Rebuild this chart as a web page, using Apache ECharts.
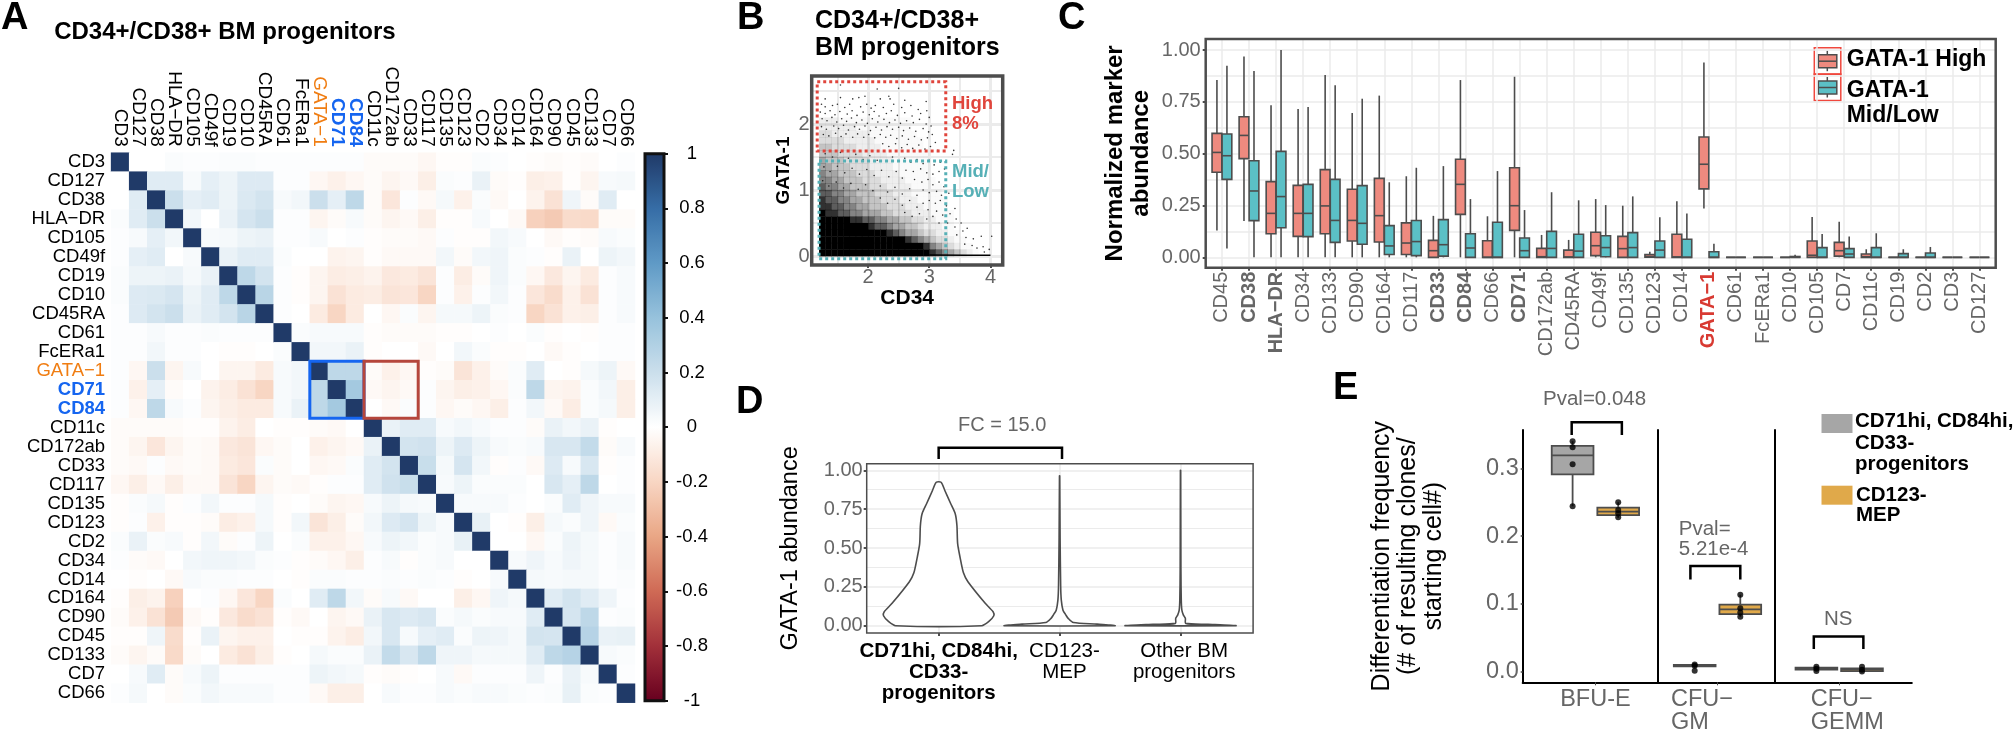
<!DOCTYPE html>
<html><head><meta charset="utf-8">
<style>html,body{margin:0;padding:0;background:#fff}#c{width:2014px;height:731px}</style>
<script src="https://cdn.jsdelivr.net/npm/echarts@6/dist/echarts.min.js"></script>
</head><body><div id="c"></div>
<script>
const ARIAL = '"Liberation Sans", Arial, sans-serif';

/* ---------- Panel A ---------- */
const markersA = ['CD3','CD127','CD38','HLA-DR','CD105','CD49f','CD19','CD10','CD45RA','CD61','FcERa1','GATA-1','CD71','CD84','CD11c','CD172ab','CD33','CD117','CD135','CD123','CD2','CD34','CD14','CD164','CD90','CD45','CD133','CD7','CD66'];
/* upper triangle, each row starts at the diagonal */
const corrCD3 = [1,0,0,.02,.01,.01,.02,.02,.01,.01,.01,.01,.01,.01,-.02,-.02,-.02,-.04,-.01,-.01,.02,.01,0,-.01,-.02,-.01,-.02,0,.01];
const corrCD127 = [1,.12,.12,.03,.1,.07,.13,.13,.01,.01,-.04,-.07,-.04,-.02,-.05,-.03,-.08,.02,.01,.08,-.02,-.01,-.08,-.07,-.01,-.05,.03,.04];
const corrCD38 = [1,.2,.1,.12,.07,.14,.17,.03,.05,.2,.1,.25,-.02,-.12,.01,-.03,.04,-.07,.02,-.03,0,-.06,-.14,.06,-.02,.12,0];
const corrHLADR = [1,.05,0,.08,.16,.2,.01,.01,-.05,-.02,.03,-.02,-.05,-.03,-.08,-.01,-.01,.03,0,-.03,-.22,-.25,-.17,-.18,-.02,-.02];
const corrCD105 = [1,.03,.04,.07,.08,.01,.01,.03,0,.01,-.01,-.02,-.02,-.03,.01,-.01,-.01,.05,.03,0,-.03,-.01,-.02,.03,.02];
const corrCD49f = [1,.08,.12,.12,.02,0,0,-.06,-.05,-.01,-.03,-.03,-.03,.05,-.02,.05,.06,.02,.01,-.01,.08,0,.07,.05];
const corrCD19 = [1,.25,.17,.01,-.01,-.05,-.09,-.08,-.06,-.11,-.1,-.13,.01,-.09,-.02,.06,.02,-.04,-.11,-.05,-.1,.01,.03];
const corrCD10 = [1,.27,.01,-.01,-.05,-.14,-.1,-.09,-.13,-.12,-.2,.01,-.07,.01,.05,.01,-.12,-.17,-.07,-.14,.01,.03];
const corrCD45RA = [1,.01,0,-.1,-.2,-.1,0,-.04,.02,-.05,.04,.04,.07,.02,.01,-.2,-.14,-.07,-.08,.01,.03];
const corrCD61 = [1,.02,.03,.03,.03,-.01,-.02,-.02,-.02,-.01,-.01,0,.01,0,.02,-.01,0,-.01,.01,.01];
const corrFcERa1 = [1,.05,.05,.08,-.01,0,0,-.03,0,.05,.02,-.01,-.01,0,-.03,-.01,0,.01,.01];
const corrGATA1 = [1,.25,.25,-.02,-.07,-.04,-.01,-.02,-.13,-.07,-.02,.02,.12,0,-.01,.04,.07,-.03];
const corrCD71 = [1,.35,-.03,-.05,-.03,.01,-.05,-.08,-.07,-.04,.02,.25,-.05,-.06,.02,.05,-.08];
const corrCD84 = [1,0,-.03,.02,.01,-.04,-.02,-.04,-.08,.01,.05,-.03,-.09,.02,.04,-.08];
const corrCD11c = [1,.08,.12,.12,.03,.05,.03,.01,.01,-.02,.08,.05,.08,-.01,0];
const corrCD172ab = [1,.17,.18,.07,.13,.07,.03,.02,.03,.15,.15,.23,-.02,.03];
const corrCD33 = [1,.21,.04,.16,.05,-.01,.01,-.03,.13,.03,.15,-.01,.01];
const corrCD117 = [1,.03,.07,.02,.02,.02,0,.15,.1,.25,0,.01];
const corrCD135 = [1,.03,.03,.03,.01,0,.02,.12,.06,.03,.03];
const corrCD123 = [1,.09,0,-.01,-.08,.04,.02,.06,-.03,.02];
const corrCD2 = [1,0,0,-.04,.02,.07,.04,.01,.03];
const corrCD34 = [1,.03,.06,.03,.06,.04,.01,.03];
const corrCD14 = [1,.04,.03,.04,.04,.01,.02];
const corrCD164 = [1,.12,.17,.12,.06,.01];
const corrCD90 = [1,.16,.25,.01,.02];
const corrCD45 = [1,.28,.08,.09];
const corrCD133 = [1,.03,.02];
const corrCD7 = [1,.01];
const corrCD66 = [1];
const corrRows = [corrCD3,corrCD127,corrCD38,corrHLADR,corrCD105,corrCD49f,corrCD19,corrCD10,corrCD45RA,corrCD61,corrFcERa1,corrGATA1,corrCD71,corrCD84,corrCD11c,corrCD172ab,corrCD33,corrCD117,corrCD135,corrCD123,corrCD2,corrCD34,corrCD14,corrCD164,corrCD90,corrCD45,corrCD133,corrCD7,corrCD66];
/* [first column, first row, last column, last row, colour] */
const highlightBoxes = [['GATA-1','GATA-1','CD84','CD84','#1565f0'],['CD11c','GATA-1','CD33','CD84','#b5463c']];

/* ---------- Panel B ---------- */
const gatesB = [[1.17,1.59,3.27,2.64,'#e0453c'],[1.2,-.04,3.27,1.44,'#56b0b6']];
const densityStartX = 1.2;
/* darkness 0-9 of each 0.1 x 0.1 cell, x from 1.2, one string per 0.1 of GATA-1 */
const densityRows = [
'99999999999999999987654321000',
'99999999999999999865432110000',
'99999999999999876543321100000',
'99999999999876554332211000000',
'99999999877655443222110000000',
'99999887766554433221110000000',
'98877665554433322211110000000',
'88776655444333222111100000000',
'87766554443332221111100000000',
'77665544433322211111000000000',
'76655444333222211111000000000',
'66554443332222111110000000000',
'65544433322221111100000000000',
'55444333222211111100000000000',
'54443333222211111100000000000',
'44433332222111111100000000000',
'44333322221111111000000000000',
'33332222211111111000000000000',
'33222222111111110000000000000',
'22222211111111100000000000000',
'22211111111111100000000000000'];
const baselineTailB = [[3.0,.015],[3.6,.012],[4.0,.01]];
const sparseDotsB = [[1.55,2.59],[2.15,2.53],[2.5,2.54],[1.3,2.38],[1.55,2.4],[1.75,2.38],[1.85,2.4],[1.95,2.42],[2.2,2.38],[2.34,2.42],[2.36,2.38],[2.6,2.36],[2.95,2.34],
[1.24,2.3],[1.3,2.26],[1.42,2.28],[1.5,2.3],[1.62,2.25],[1.7,2.3],[1.88,2.26],[1.98,2.3],[2.05,2.24],[2.12,2.28],[2.25,2.25],[2.42,2.3],[2.55,2.25],[2.7,2.28],[2.82,2.22],[2.96,2.2],
[1.22,2.18],[1.3,2.16],[1.38,2.2],[1.46,2.14],[1.54,2.19],[1.66,2.15],[1.74,2.2],[1.82,2.13],[1.92,2.18],[2.02,2.14],[2.1,2.19],[2.18,2.12],[2.3,2.16],[2.38,2.2],[2.48,2.13],[2.6,2.17],[2.72,2.12],[2.86,2.16],[3.0,2.1],
[1.25,2.08],[1.33,2.05],[1.41,2.1],[1.49,2.03],[1.57,2.08],[1.65,2.04],[1.73,2.09],[1.81,2.02],[1.9,2.06],[1.99,2.01],[2.07,2.08],[2.16,2.03],[2.26,2.07],[2.35,2.02],[2.44,2.06],[2.53,2.01],[2.63,2.05],[2.74,2.02],[2.84,2.07],[2.95,2.0],[3.03,1.97],
[1.24,1.96],[1.32,1.92],[1.44,1.97],[1.52,1.93],[1.6,1.98],[1.68,1.91],[1.78,1.96],[1.86,1.92],[1.95,1.97],[2.04,1.9],[2.13,1.95],[2.22,1.91],[2.31,1.96],[2.4,1.92],[2.5,1.95],[2.58,1.9],[2.68,1.94],[2.78,1.89],[2.9,1.93],[2.99,1.88],[3.05,1.84],
[1.27,1.84],[1.36,1.82],[1.47,1.86],[1.56,1.81],[1.64,1.85],[1.75,1.8],[1.83,1.85],[1.93,1.8],[2.01,1.84],[2.11,1.79],[2.2,1.84],[2.29,1.8],[2.37,1.83],[2.47,1.78],[2.56,1.82],[2.66,1.77],[2.76,1.81],[2.87,1.76],[2.97,1.79],[3.1,1.72],
[2.24,1.7],[2.34,1.66],[2.45,1.7],[2.55,1.64],[2.64,1.69],[2.73,1.63],[2.83,1.68],[2.93,1.62],[3.02,1.66],[3.14,1.6],[3.4,1.6],[3.38,1.54],
[2.4,1.5],[2.5,1.44],[2.6,1.48],[2.7,1.42],[2.8,1.46],[2.9,1.4],[3.0,1.45],[3.08,1.38],[3.18,1.42],[3.25,1.32],[2.62,1.3],[2.74,1.28],[2.86,1.32],[2.96,1.26],[3.06,1.24],[3.16,1.28],
[2.76,1.16],[2.88,1.12],[2.98,1.16],[3.06,1.08],[3.16,1.12],[3.24,1.05],[2.9,1.0],[3.0,.96],[3.12,.98],[3.2,.92],[3.32,.95],[3.0,.84],[3.1,.8],[3.18,.84],[3.28,.76],[3.42,.72],[3.12,.68],[3.22,.62],[3.34,.64],[3.44,.56],[3.52,.5],
[3.3,.5],[3.42,.44],[3.55,.38],[3.62,.42],[3.45,.32],[3.6,.28],[3.72,.26],[3.85,.3],[4.02,.3],[3.58,.18],[3.7,.16],[3.78,.12],[3.88,.14],[3.98,.1],[3.9,.06],
[1.3,1.55],[1.42,1.5],[1.55,1.57],[1.68,1.48],[1.8,1.54],[1.92,1.46],[2.03,1.52],[2.15,1.45],[1.28,1.35],[1.38,1.28],[1.5,1.36],[1.62,1.26],[1.74,1.33],[1.86,1.24],[1.98,1.31],[2.1,1.22],[2.22,1.3],[2.34,1.2],[2.46,1.28],[2.56,1.18],
[1.26,1.14],[1.36,1.06],[1.48,1.12],[1.6,1.03],[1.72,1.1],[1.84,1.01],[1.96,1.08],[2.08,.99],[2.2,1.06],[2.32,.97],[2.44,1.04],[2.56,.94],[2.68,1.02],[2.8,.92],[2.2,.88],[2.32,.8],[2.44,.86],[2.56,.77],[2.68,.84],[2.8,.74],[2.9,.8],[2.98,.7],[2.6,.66],[2.72,.6],[2.84,.64],[2.96,.56],[3.06,.6],[3.16,.5]];

/* ---------- Panel C ---------- */
const markersC = ['CD45','CD38','HLA-DR','CD34','CD133','CD90','CD164','CD117','CD33','CD84','CD66','CD71','CD172ab','CD45RA','CD49f','CD135','CD123','CD14','GATA-1','CD61','FcERa1','CD10','CD105','CD7','CD11c','CD19','CD2','CD3','CD127'];
const boldMarkersC = ['CD38','HLA-DR','CD33','CD84','CD71'];
/* low whisker, q1, median, q3, high whisker */
const gataHigh = [[.13,.41,.506,.598,.855],[.175,.476,.588,.678,.968],[0,.114,.212,.365,.733],[0,.101,.212,.347,.715],[0,.114,.248,.423,.879],[0,.079,.178,.328,.696],[0,.074,.201,.381,.78],[0,.014,.069,.166,.391],[0,0,.032,.082,.2],[0,.207,.352,.473,.855],[0,0,0,.08,.198],[0,.13,.249,.432,.871],[0,0,.003,.043,.108],[0,0,.002,.035,.084],[0,.008,.056,.121,.281],[0,0,.042,.101,.249],[0,.001,.003,.013,.027],[0,0,.002,.111,.27],[.235,.33,.449,.58,.94],[0,0,0,0,0],[0,0,0,0,0],[0,0,0,0,.002],[0,0,.01,.079,.195],[0,.006,.032,.072,.172],[0,0,.003,.016,.039],[0,0,0,0,0],[0,0,0,0,0],[0,0,0,0,0],[0,0,0,0,0]];
const gataMidLow = [[.043,.376,.49,.595,.924],[0,.177,.32,.466,.899],[0,.143,.293,.511,1],[0,.1,.212,.352,.725],[0,.072,.178,.376,.83],[0,.063,.164,.346,.765],[0,.014,.055,.153,.362],[0,.008,.076,.178,.432],[0,.006,.061,.182,.44],[0,0,.045,.114,.281],[0,0,0,.169,.416],[0,0,.032,.093,.228],[0,0,.043,.125,.314],[0,0,.03,.111,.275],[0,.003,.047,.104,.252],[0,0,.047,.119,.294],[0,0,.035,.079,.193],[0,0,0,.087,.212],[0,0,0,.027,.066],[0,0,0,0,0],[0,0,0,0,0],[0,0,0,.004,.012],[0,0,0,.047,.113],[0,0,.016,.042,.1],[0,0,0,.047,.116],[0,0,0,.018,.039],[0,0,0,.021,.05],[0,0,0,0,0],[0,0,0,0,0]];

/* ---------- Panel D ---------- */
const categoriesD = ['CD71hi, CD84hi,\nCD33-\nprogenitors','CD123-\nMEP','Other BM\nprogenitors'];
const violinLevels1 = [0,.026,.064,.09,.144,.283,.34,.44,.528,.645,.72,.785,.87,.923];
const violinWidths1 = [.356,.413,.456,.45,.385,.242,.205,.177,.157,.151,.137,.1,.051,.02];
const violinLevels2 = [0,.01,.02,.047,.07,.1,.165,.25,.57,.965];
const violinWidths2 = [.456,.31,.114,.071,.051,.028,.014,.009,.004,.001];
const violinLevels3 = [0,.009,.015,.047,.07,.1,.165,.36,1];
const violinWidths3 = [.456,.228,.043,.04,.023,.011,.006,.003,.001];

/* ---------- Panel E ---------- */
const facetsE = ['BFU-E','CFU−\nGM','CFU−\nGEMM'];
const seriesE = ['CD71hi, CD84hi,\nCD33-\nprogenitors','CD123-\nMEP'];
/* low whisker, q1, median, q3, high whisker */
const boxBFU = [[.244,.291,.319,.333,.34],[.227,.231,.236,.242,.25]];
const boxGM = [[.006,.008,.009,.01,.011],[.081,.085,.092,.099,.1136]];
const boxGEMM = [[.002,.003,.0044,.006,.007],[.001,.001,.003,.005,.007]];
const pointsBFU = [[1,.34],[1,.331],[1,.306],[1,.244],[2,.25],[2,.2386],[2,.2337],[2,.228]];
const pointsGM = [[1,.0108],[1,.0089],[1,.0015],[2,.1136],[2,.0935],[2,.0875],[2,.081]];
const pointsGEMM = [[1,.0074],[1,.0044],[1,.001],[2,.0074],[2,.003],[2,.0005]];
/* first x, last x, top, foot */
const bracketD = [1,2.02,1.145,1.073];
const bracketBFU = [.98,2.08,.368,.349];
const bracketGM = [.906,2,.156,.136];
const bracketGEMM = [.943,2.03,.052,.0335];

/* ---------- shared styling ---------- */
const GRAY = '#666666', FRAME = '#4d4d4d', GRID = '#ebebeb';

function bracketSeries(xAxisIndex, yAxisIndex, b) {
  return {type:'custom', xAxisIndex, yAxisIndex, clip:false, silent:true, z:8, data:[b],
    renderItem(p, api) {
      const a = api.coord([api.value(0), api.value(3)]), t1 = api.coord([api.value(0), api.value(2)]),
            t2 = api.coord([api.value(1), api.value(2)]), c = api.coord([api.value(1), api.value(3)]);
      return {type:'polyline', shape:{points:[a,t1,t2,c]}, style:{fill:'none', stroke:'#000', lineWidth:2.5}};
    }, encode:{x:[0,1], y:[2,3]}};
}
function boxSeries(xAxisIndex, yAxisIndex, rows, pos, width, fills, lw) {
  return {type:'custom', xAxisIndex, yAxisIndex, clip:false, z:3, silent:true,
    data: rows.map((r,i)=>[pos[i], ...r]),
    encode:{x:0, y:[1,5]},
    renderItem(p, api) {
      const x = api.value(0), v = [1,2,3,4,5].map(k=>api.value(k));
      const fill = fills[p.dataIndex % fills.length];
      const pt = (dx,y)=>api.coord([x+dx,y]);
      const w = width/2, stroke = {stroke:FRAME, lineWidth:lw};
      const tl = pt(-w,v[3]), br = pt(w,v[1]);
      return {type:'group', children:[
        {type:'line', shape:{x1:pt(0,0)[0], y1:pt(0,v[0])[1], x2:pt(0,0)[0], y2:pt(0,v[1])[1]}, style:stroke},
        {type:'line', shape:{x1:pt(0,0)[0], y1:pt(0,v[3])[1], x2:pt(0,0)[0], y2:pt(0,v[4])[1]}, style:stroke},
        {type:'rect', shape:{x:tl[0], y:tl[1], width:br[0]-tl[0], height:br[1]-tl[1]}, style:{fill, ...stroke}},
        {type:'line', shape:{x1:tl[0], y1:pt(0,v[2])[1], x2:br[0], y2:pt(0,v[2])[1]}, style:stroke}
      ]};
    }};
}
function violinSeries(xAxisIndex, yAxisIndex, center, levels, widths) {
  return {type:'custom', xAxisIndex, yAxisIndex, z:3, silent:true,
    data: levels.map((l,i)=>[center, l, widths[i]]),
    encode:{x:0, y:1},
    renderItem(p, api) {
      if (p.dataIndex !== 0) return null;
      const right = levels.map((l,i)=>api.coord([center+widths[i], l]));
      const left = levels.map((l,i)=>api.coord([center-widths[i], l])).reverse();
      return {type:'polygon', shape:{points:right.concat(left), smooth:.25}, style:{fill:'#fff', stroke:FRAME, lineWidth:1.6}};
    }};
}

/* ---------- grids ---------- */
const G = o => Object.assign({outerBoundsMode:'none', containLabel:false}, o);
const grids = [
  G({left:111.1, top:152.7, width:523.9, height:550}),                 // 0 heat
  G({left:645, top:153.7, width:19, height:547, show:true, borderColor:'#111', borderWidth:3, backgroundColor:'transparent', z:10}), // 1 colorbar
  G({left:811.7, top:76, width:191, height:189, show:true, borderColor:FRAME, borderWidth:3.5, z:6}),    // 2 B
  G({left:1205.7, top:39, width:790, height:228.7, show:true, borderColor:FRAME, borderWidth:2.5, z:6}), // 3 C
  G({left:866.7, top:463.7, width:386.4, height:169.3, show:true, borderColor:FRAME, borderWidth:1.5, z:6}), // 4 D
  G({left:1522.7, top:430, width:134.6, height:252.3}),  // 5 E1
  G({left:1657.3, top:430, width:117.7, height:252.3}),  // 6 E2
  G({left:1775, top:430, width:136.8, height:252.3})     // 7 E3
];

const labelRich = (s)=>({
  k:{fontFamily:ARIAL, fontSize:s, color:'#000'},
  o:{fontFamily:ARIAL, fontSize:s, color:'#f07d12'},
  b:{fontFamily:ARIAL, fontSize:s, color:'#1565f0', fontWeight:'bold'}
});
const heatLabel = v => v==='GATA-1' ? `{o|${v.replace('-','\u2212')}}` : (v==='CD71'||v==='CD84') ? `{b|${v}}` : `{k|${v.replace('HLA-DR','HLA\u2212DR')}}`;

function valueAxis(extra) {
  return Object.assign({type:'value', axisLine:{show:false, onZero:false}, axisTick:{show:false}, axisLabel:{show:false}, splitLine:{show:false}}, extra);
}
function customTicks(values, fmt, labelExtra, splitLine, tick, labelValues) {
  return {
    axisTick:{show:tick!==false, length:3, lineStyle:{color:FRAME, width:2}, customValues:values},
    axisLabel:Object.assign({show:true, customValues:labelValues||values, formatter:fmt, fontFamily:ARIAL, fontSize:20, color:GRAY, margin:4, showMinLabel:true, showMaxLabel:true}, labelExtra),
    splitLine: splitLine
  };
}
const majorLine = w => ({show:true, lineStyle:{color:GRID, width:w}});
const minorAxis = (gridIndex, min, max, values, w) => valueAxis({gridIndex, min, max,
  axisTick:{show:false, customValues:values}, splitLine:{show:true, lineStyle:{color:GRID, width:w}}});

function eX(gridIndex,min,max,tick,labelAt,facet) {
  return {type:'value', gridIndex, min, max, axisLine:{show:true, onZero:false, lineStyle:{color:'#000', width:2}},
    axisTick:{show:true, length:3, lineStyle:{color:FRAME, width:1}, customValues:[tick]}, splitLine:{show:false},
    axisLabel:{show:true, customValues:[labelAt], formatter:()=>facetsE[facet], fontFamily:ARIAL, fontSize:23.5, color:GRAY, margin:5, align:facet===0?'center':'left', lineHeight:23.5, showMinLabel:true, showMaxLabel:true}};
}
const xAxes = [
  {type:'category', gridIndex:0, data:markersA, position:'top', axisLine:{show:false}, axisTick:{show:false}, splitLine:{show:false},
   axisLabel:{rotate:90, interval:0, margin:6, formatter:heatLabel, rich:labelRich(19)}},
  valueAxis({gridIndex:1, min:0, max:1}),
  valueAxis(Object.assign({gridIndex:2, min:1.08, max:4.2, name:'CD34', nameLocation:'middle', nameGap:17,
    nameTextStyle:{fontFamily:ARIAL, fontSize:21, fontWeight:'bold', color:'#000'}},
    customTicks([2,3,4], v=>v, {margin:2}, majorLine(3)))),
  minorAxis(2,1.08,4.2,[1.5,2.5,3.5],2),
  valueAxis(Object.assign({gridIndex:3, min:-.6, max:28.6},
    customTicks(markersC.map((m,i)=>i), v=>{const m=markersC[v]; if(m===undefined) return ''; const t=m.replace('-','\u2212'); return m==='GATA-1'?`{r|${t}}`:boldMarkersC.includes(m)?`{b|${t}}`:`{n|${t}}`;},
      {rotate:90, margin:4, rich:{n:{fontFamily:ARIAL,fontSize:20,color:GRAY},b:{fontFamily:ARIAL,fontSize:20,color:GRAY,fontWeight:'bold'},r:{fontFamily:ARIAL,fontSize:20,color:'#d83a32',fontWeight:'bold'}}}, majorLine(1.5)))),
  valueAxis(Object.assign({gridIndex:4, min:.405, max:3.6},
    customTicks([1,2,3], v=>{const k=Math.round(v)-1, c=categoriesD[k]; return c===undefined?'':c.split('\n').map(s=>`{${k===0?'b':'n'}|${s}}`).join('\n');},
      {margin:8, color:'#000', rich:{b:{fontFamily:ARIAL,fontSize:20.5,fontWeight:'bold',color:'#000',lineHeight:21},n:{fontFamily:ARIAL,fontSize:20.5,color:'#000',lineHeight:21}}}, majorLine(1.5), true, [1,2.04,3.03]))),
  eX(5,-.094,2.857,1.5,1.5,0),
  eX(6,.18,2.761,1.5,.48,1),
  eX(7,.092,3.092,1.5,.877,2)
];
const yAxes = [
  {type:'category', gridIndex:0, data:markersA, inverse:true, axisLine:{show:false}, axisTick:{show:false}, splitLine:{show:false},
   axisLabel:{interval:0, margin:6, formatter:heatLabel, rich:labelRich(18.5)}},
  {type:'value', gridIndex:1, min:-1, max:1, interval:.2, position:'right', axisLine:{show:false, onZero:false}, splitLine:{show:false},
   axisTick:{show:true, length:4, lineStyle:{color:'#111', width:2}},
   axisLabel:{margin:28, align:'center', fontFamily:ARIAL, fontSize:18.5, color:'#000', formatter:v=>String(+v.toFixed(1))}, z:10},
  valueAxis(Object.assign({gridIndex:2, min:-.136, max:2.727, name:'GATA-1', nameLocation:'middle', nameGap:18, nameRotate:90,
    nameTextStyle:{fontFamily:ARIAL, fontSize:19, fontWeight:'bold', color:'#000'}},
    customTicks([0,1,2], v=>v, {margin:2}, majorLine(3), false))),
  minorAxis(2,-.136,2.727,[.5,1.5,2.5],2),
  valueAxis(Object.assign({gridIndex:3, min:-.05, max:1.053, name:'Normalized marker\nabundance', nameLocation:'middle', nameGap:51, nameRotate:90,
    nameTextStyle:{fontFamily:ARIAL, fontSize:24, fontWeight:'bold', color:'#000', lineHeight:26}},
    customTicks([0,.25,.5,.75,1], v=>v.toFixed(2), {margin:5}, majorLine(1.5)))),
  minorAxis(3,-.05,1.053,[.125,.375,.625,.875],1.5),
  valueAxis(Object.assign({gridIndex:4, min:-.047, max:1.0425, name:'GATA-1 abundance', nameLocation:'middle', nameGap:64, nameRotate:90,
    nameTextStyle:{fontFamily:ARIAL, fontSize:23.5, color:'#000'}},
    customTicks([0,.25,.5,.75,1], v=>v.toFixed(2), {margin:4}, majorLine(1.5)))),
  minorAxis(4,-.047,1.0425,[.125,.375,.625,.875],1),
  {type:'value', gridIndex:5, min:-.0156, max:.3565, splitLine:{show:false}, name:'Differentiation frequency\n(# of resulting clones/\nstarting cell#)', nameLocation:'middle', nameGap:76, nameRotate:90,
   nameTextStyle:{fontFamily:ARIAL, fontSize:25, color:'#000', lineHeight:26},
   axisLine:{show:true, onZero:false, lineStyle:{color:'#000', width:2}},
   axisTick:{show:true, length:2, lineStyle:{color:FRAME, width:1.5}, customValues:[0,.1,.2,.3]},
   axisLabel:{customValues:[0,.1,.2,.3], formatter:v=>v.toFixed(1), fontFamily:ARIAL, fontSize:23.5, color:GRAY, margin:4}},
  {type:'value', gridIndex:6, min:-.0156, max:.3565, splitLine:{show:false}, axisTick:{show:false}, axisLabel:{show:false}, axisLine:{show:true, onZero:false, lineStyle:{color:'#000', width:2}}},
  {type:'value', gridIndex:7, min:-.0156, max:.3565, splitLine:{show:false}, axisTick:{show:false}, axisLabel:{show:false}, axisLine:{show:true, onZero:false, lineStyle:{color:'#000', width:2}}}
];

/* ---------- series ---------- */
const heatData = [];
corrRows.forEach((row,i)=>row.forEach((v,k)=>{ heatData.push([i+k,i,v]); if(k) heatData.push([i,i+k,v]); }));
const densityCells = [];
densityRows.forEach((s,r)=>[...s].forEach((d,c)=>{ if(+d) densityCells.push([densityStartX+c*.1, r*.1, +d]); }));

const series = [
  {type:'heatmap', xAxisIndex:0, yAxisIndex:0, data:heatData, silent:true, progressive:0},
  {type:'custom', xAxisIndex:0, yAxisIndex:0, z:5, silent:true, clip:false, data:highlightBoxes,
   encode:{x:0,y:1},
   renderItem(p,api){
     const h = highlightBoxes[p.dataIndex];
     const a = api.coord([h[0],h[1]]), b = api.coord([h[2],h[3]]), s = api.size([1,1]);
     return {type:'rect', shape:{x:a[0]-s[0]/2, y:a[1]-s[1]/2, width:b[0]-a[0]+s[0], height:b[1]-a[1]+s[1]}, style:{fill:'none', stroke:h[4], lineWidth:3}};
   }},
  {type:'custom', xAxisIndex:2, yAxisIndex:2, z:2, silent:true, data:densityCells, encode:{x:0,y:1},
   renderItem(p,api){
     const a = api.coord([api.value(0),api.value(1)+.1]), b = api.coord([api.value(0)+.1,api.value(1)]);
     return {type:'rect', shape:{x:a[0],y:a[1],width:b[0]-a[0]+.4,height:b[1]-a[1]+.4}, style:{fill:'#000', opacity:Math.pow(api.value(2)/9,1.8)}};
   }},
  {type:'scatter', xAxisIndex:2, yAxisIndex:2, z:3, silent:true, symbolSize:1.6, data:sparseDotsB, itemStyle:{color:'#000'}},
  {type:'line', xAxisIndex:2, yAxisIndex:2, z:3, silent:true, symbol:'none', data:baselineTailB, lineStyle:{color:'#000', width:1.5}},
  {type:'custom', xAxisIndex:2, yAxisIndex:2, z:4, silent:true, clip:false, data:gatesB, encode:{x:[0,2],y:[1,3]},
   renderItem(p,api){
     const g = gatesB[p.dataIndex], a=api.coord([g[0],g[3]]), b=api.coord([g[2],g[1]]);
     return {type:'rect', shape:{x:a[0],y:a[1],width:b[0]-a[0],height:b[1]-a[1]}, style:{fill:'none',stroke:g[4],lineWidth:3,lineDash:[3,3]}};
   }},
  boxSeries(4,4,gataHigh,markersC.map((m,i)=>i-.185),.36,['#ee8a7f'],1.6),
  boxSeries(4,4,gataMidLow,markersC.map((m,i)=>i+.185),.36,['#5bc0c6'],1.6),
  violinSeries(5,6,1,violinLevels1,violinWidths1),
  violinSeries(5,6,2,violinLevels2,violinWidths2),
  violinSeries(5,6,3,violinLevels3,violinWidths3),
  bracketSeries(5,6,bracketD),
  boxSeries(6,8,boxBFU,[1,2],.915,['#a6a6a6','#e0a94a'],1.8),
  boxSeries(7,9,boxGM,[1,2],.915,['#a6a6a6','#e0a94a'],1.8),
  boxSeries(8,10,boxGEMM,[1,2],.915,['#a6a6a6','#e0a94a'],1.8),
  {type:'scatter', xAxisIndex:6, yAxisIndex:8, z:5, symbolSize:6, data:pointsBFU, itemStyle:{color:'#000'}, silent:true, clip:false},
  {type:'scatter', xAxisIndex:7, yAxisIndex:9, z:5, symbolSize:6, data:pointsGM, itemStyle:{color:'#000'}, silent:true, clip:false},
  {type:'scatter', xAxisIndex:8, yAxisIndex:10, z:5, symbolSize:6, data:pointsGEMM, itemStyle:{color:'#000'}, silent:true, clip:false},
  bracketSeries(6,8,bracketBFU),
  bracketSeries(7,9,bracketGM),
  bracketSeries(8,10,bracketGEMM)
];

/* ---------- texts ---------- */
const T = (text,left,top,style,extra)=>Object.assign({text,left,top,padding:0,textStyle:Object.assign({fontFamily:ARIAL,color:'#000',fontWeight:'normal',fontSize:20},style)},extra||{});
const big = {fontWeight:'bold', fontSize:38};
const titles = [
  T('A',1,0,big), T('B',737,0,big), T('C',1058,0,big), T('D',736,384,big), T('E',1333,370,big),
  T('CD34+/CD38+ BM progenitors',54.2,20,{fontWeight:'bold',fontSize:24}),
  T('CD34+/CD38+\nBM progenitors',815,8,{fontWeight:'bold',fontSize:25,lineHeight:27}),
  T('High\n8%',952,94,{fontWeight:'bold',fontSize:18.5,color:'#e0453c',lineHeight:20}),
  T('Mid/\nLow',952,162,{fontWeight:'bold',fontSize:18.5,color:'#56b0b6',lineHeight:20}),
  T('GATA-1 High',1846.7,48,{fontWeight:'bold',fontSize:23}),
  T('GATA-1\nMid/Low',1846.7,78,{fontWeight:'bold',fontSize:23,lineHeight:25}),
  T('FC = 15.0',958,415,{color:GRAY,fontSize:20}),
  T('Pval=0.048',1543,389,{color:GRAY,fontSize:20.5}),
  T('Pval=\n5.21e-4',1678.8,520,{color:GRAY,fontSize:20.5,lineHeight:19.5}),
  T('NS',1824,609,{color:GRAY,fontSize:20.5}),
  T(seriesE[0],1855,411,{fontWeight:'bold',fontSize:20.5,lineHeight:21.5}),
  T(seriesE[1],1856,485,{fontWeight:'bold',fontSize:20.5,lineHeight:20})
];
const keyBox = (x,y,fill)=>[
  {type:'rect', shape:{x:x,y:y,width:26.5,height:26.5}, style:{fill:'none',stroke:'#f0483e',lineWidth:1.5}},
  {type:'line', shape:{x1:x+13,y1:y+3,x2:x+13,y2:y+23.5}, style:{stroke:FRAME,lineWidth:1.5}},
  {type:'rect', shape:{x:x+4,y:y+7,width:18.5,height:13}, style:{fill,stroke:FRAME,lineWidth:1.5}},
  {type:'line', shape:{x1:x+4,y1:y+13.5,x2:x+22.5,y2:y+13.5}, style:{stroke:FRAME,lineWidth:1.5}}
];
const graphics = [
  ...keyBox(1814.3,47.7,'#ee8a7f'), ...keyBox(1814.3,74,'#5bc0c6'),
  {type:'rect', shape:{x:1821.5,y:414,width:31,height:19}, style:{fill:'#a6a6a6'}},
  {type:'rect', shape:{x:1821.5,y:485.7,width:31,height:19}, style:{fill:'#e0a94a'}}
];

const chart = echarts.init(document.getElementById('c'), null, {renderer:'canvas'});
chart.setOption({
  animation:false, backgroundColor:'#fff', tooltip:{show:false},
  title:titles, grid:grids, xAxis:xAxes, yAxis:yAxes, series,
  graphic:{elements:graphics},
  visualMap:{type:'continuous', min:-1, max:1, seriesIndex:0, left:645, top:153.7, itemWidth:19, itemHeight:547, calculable:false, text:['',''], showLabel:false, padding:0, realtime:false, hoverLink:false,
    inRange:{color:['#67001f','#a2303a','#cf6a55','#e9a685','#f8d6c3','#ffffff','#cbdfec','#97c2dc','#5f9ac6','#366da6','#203a68']}, textStyle:{color:'transparent'}}
});
</script></body></html>
